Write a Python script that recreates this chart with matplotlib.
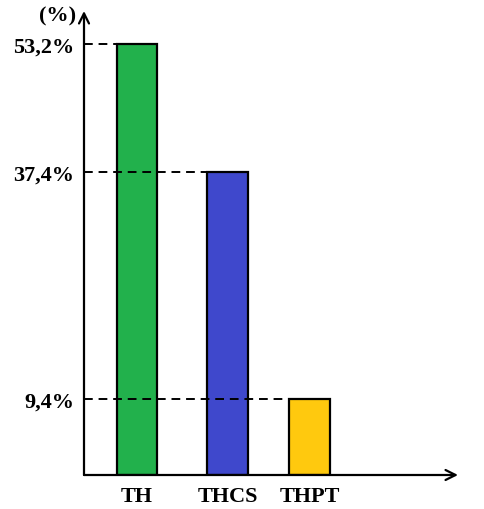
import matplotlib.pyplot as plt

# données
categories = ["TH", "THCS", "THPT"]
valeurs = [53.2, 37.4, 9.4]
etiquettes = ["53,2%", "37,4%", "9,4%"]
couleurs = ["#22B14C", "#3F48CC", "#FFC90E"]

# position des barres
xpos = [0.589, 1.594, 2.506]
largeur = 0.455

plt.rcParams['font.family'] = ['Liberation Serif', 'DejaVu Serif']
plt.rcParams['font.weight'] = 'bold'

fig = plt.figure(figsize=(4.85, 5.1), dpi=100)
ax = fig.add_axes([84/485, 34/510, (458-84)/485, (476-12)/510])
ax.set_xlim(0, 4.155)
ax.set_ylim(0, 57.3)

# barres
ax.bar(xpos, valeurs, width=largeur, color=couleurs, edgecolor='black', linewidth=1.6, zorder=2)

# lignes pointillées jusqu'au bord gauche de chaque barre
for x, v in zip(xpos, valeurs):
    ax.plot([0, x - largeur/2], [v, v], color='black', linestyle=(0, (4.5, 3)), linewidth=1.4, zorder=3)

# axes avec flèches
for s in ax.spines.values():
    s.set_visible(False)
fleche = dict(arrowstyle='->', lw=1.6, color='black', shrinkA=0, shrinkB=0, mutation_scale=18)
ax.annotate('', xy=(0, 1), xytext=(0, 0), xycoords='axes fraction', arrowprops=fleche)
ax.annotate('', xy=(1, 0), xytext=(0, 0), xycoords='axes fraction', arrowprops=fleche)

ax.set_yticks(valeurs)
ax.set_yticklabels(etiquettes)
ax.set_xticks(xpos)
ax.set_xticklabels(categories)
ax.tick_params(axis='both', length=0, labelsize=16)
ax.tick_params(axis='y', pad=7)
ax.tick_params(axis='x', pad=8)

ax.text(-0.022, 0.99, "(%)", transform=ax.transAxes, ha='right', va='center', fontsize=16, fontweight='bold')

plt.savefig("out.png", dpi=100)
plt.close()
